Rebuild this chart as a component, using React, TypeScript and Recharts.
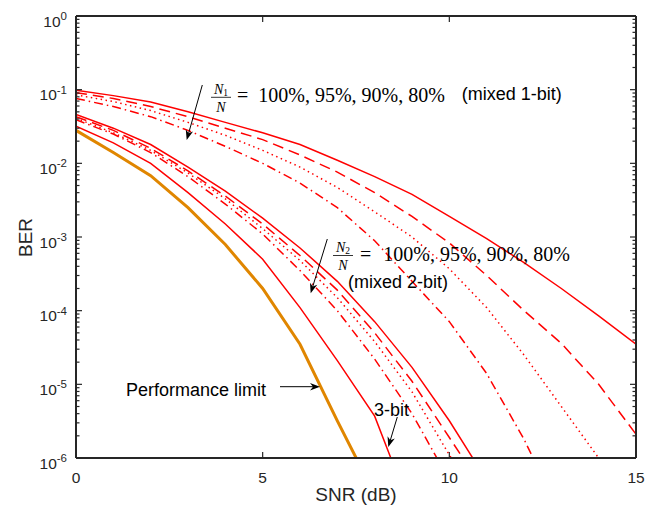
import React from "react";
import { LineChart, Line, XAxis, YAxis } from "recharts";

// SNR grid (dB)
const snr = [0, 1, 2, 3, 4, 5, 6, 7, 8, 9, 10, 11, 12, 13, 14, 15];

// mixed 1-bit, N1/N = 100%, 95%, 90%, 80%
const oneBit100 = [0.098, 0.083, 0.068, 0.05, 0.036, 0.026, 0.018, 0.011, 6.6e-3, 3.8e-3, 1.9e-3, 9.5e-4, 4.5e-4, 2.0e-4, 8.5e-5, 3.5e-5];
const oneBit95 = [0.091, 0.076, 0.059, 0.043, 0.03, 0.021, 0.013, 7.6e-3, 4.0e-3, 1.9e-3, 8.3e-4, 3.0e-4, 1.0e-4, 3.6e-5, 1.0e-5, 2.1e-6];
const oneBit90 = [0.085, 0.069, 0.052, 0.036, 0.024, 0.015, 8.9e-3, 4.7e-3, 2.2e-3, 1.0e-3, 3.7e-4, 1.1e-4, 2.5e-5, 5.0e-6, 1.0e-6];
const oneBit80 = [0.076, 0.059, 0.043, 0.028, 0.017, 0.01, 5.4e-3, 2.5e-3, 8.9e-4, 2.5e-4, 7.1e-5, 1.4e-5, 1.8e-6, 1.6e-7];

// mixed 2-bit, N2/N = 100%, 95%, 90%, 80%
const twoBit100 = [0.046, 0.03, 0.018, 8.9e-3, 4.2e-3, 1.8e-3, 7.1e-4, 2.5e-4, 7.1e-5, 1.7e-5, 3.2e-6, 5.0e-7];
const twoBit95 = [0.043, 0.028, 0.016, 7.9e-3, 3.6e-3, 1.5e-3, 5.6e-4, 1.9e-4, 5.0e-5, 1.1e-5, 1.9e-6, 3.2e-7];
const twoBit90 = [0.041, 0.026, 0.015, 7.4e-3, 3.3e-3, 1.3e-3, 4.8e-4, 1.5e-4, 3.8e-5, 7.9e-6, 1.1e-6, 1.6e-7];
const twoBit80 = [0.039, 0.025, 0.014, 6.6e-3, 2.8e-3, 1.1e-3, 3.5e-4, 1.0e-4, 2.2e-5, 4.0e-6, 5.0e-7];

const threeBit = [0.032, 0.019, 0.01, 4.0e-3, 1.5e-3, 5.0e-4, 1.1e-4, 2.1e-5, 3.7e-6, 1.8e-7];
const perfLimit = [0.028, 0.014, 6.8e-3, 2.5e-3, 7.9e-4, 2.0e-4, 3.5e-5, 3.2e-6, 3.2e-7];

const xTicks = [0, 5, 10, 15];
const decadeExps = [-6, -5, -4, -3, -2, -1, 0];
const minorSteps = [2, 3, 4, 5, 6, 7, 8, 9];

const majorY = decadeExps.map((e) => Math.pow(10, e));
const minorY = decadeExps.slice(0, -1).flatMap((e) => minorSteps.map((m) => m * Math.pow(10, e)));
const yTicks = [...majorY, ...minorY].sort((a, b) => a - b);

const data = snr.map((s, i) => ({
  snr: s,
  b1_100: oneBit100[i] ?? null,
  b1_95: oneBit95[i] ?? null,
  b1_90: oneBit90[i] ?? null,
  b1_80: oneBit80[i] ?? null,
  b2_100: twoBit100[i] ?? null,
  b2_95: twoBit95[i] ?? null,
  b2_90: twoBit90[i] ?? null,
  b2_80: twoBit80[i] ?? null,
  b3: threeBit[i] ?? null,
  limit: perfLimit[i] ?? null,
}));

const AXIS = "#262626";
const RED = "#ff0000";
const ORANGE = "#e08600";
const SANS = "'Liberation Sans', Arial, Helvetica, sans-serif";
const SERIF = "'Liberation Serif', 'Times New Roman', serif";

const DASH = "11 6";
const DOT = "1.5 3.5";
const DASHDOT = "9 4 1.5 4";

const isMajor = (v: number) => {
  const l = Math.log10(v);
  return Math.abs(l - Math.round(l)) < 1e-6;
};

function LeftTick(props: any) {
  const { x, y, payload } = props;
  const v = payload.value;
  const major = isMajor(v);
  const exp = Math.round(Math.log10(v));
  return (
    <g>
      <line x1={x} x2={x + (major ? 6 : 3.5)} y1={y} y2={y} stroke={AXIS} strokeWidth={1.2} />
      {major && (
        <text x={x - 9} y={y + 10.5} textAnchor="end" fontSize={15.5} fill={AXIS} fontFamily={SANS}>
          10
          <tspan dy={-6.5} fontSize={11.5}>
            {exp}
          </tspan>
        </text>
      )}
    </g>
  );
}

function RightTick(props: any) {
  const { x, y, payload } = props;
  const major = isMajor(payload.value);
  return <line x1={x} x2={x - (major ? 6 : 3.5)} y1={y} y2={y} stroke={AXIS} strokeWidth={1.2} />;
}

function BottomTick(props: any) {
  const { x, y, payload } = props;
  return (
    <g>
      <line x1={x} x2={x} y1={y} y2={y - 6} stroke={AXIS} strokeWidth={1.2} />
      <text x={x} y={y + 24.5} textAnchor="middle" fontSize={15.5} fill={AXIS} fontFamily={SANS}>
        {payload.value}
      </text>
    </g>
  );
}

function TopTick(props: any) {
  const { x, y } = props;
  return <line x1={x} x2={x} y1={y} y2={y + 6} stroke={AXIS} strokeWidth={1.2} />;
}

function Arrow({ x1, y1, x2, y2 }: { x1: number; y1: number; x2: number; y2: number }) {
  const a = Math.atan2(y2 - y1, x2 - x1);
  const c = Math.cos(a);
  const s = Math.sin(a);
  const L = 10;
  const W = 3.8;
  const bx = x2 - L * c;
  const by = y2 - L * s;
  const nx = x2 - L * 0.7 * c;
  const ny = y2 - L * 0.7 * s;
  const pts = [
    [x2, y2],
    [bx - W * s, by + W * c],
    [nx, ny],
    [bx + W * s, by - W * c],
  ]
    .map((p) => p.join(","))
    .join(" ");
  return (
    <g>
      <line x1={x1} y1={y1} x2={nx} y2={ny} stroke="#000" strokeWidth={1} />
      <polygon points={pts} fill="#000" />
    </g>
  );
}

function Fraction({ x, bar, sub }: { x: number; bar: number; sub: string }) {
  return (
    <g fontFamily={SERIF} fill="#000">
      <text x={x} y={bar - 3.8} textAnchor="middle" fontSize={14} fontStyle="italic">
        N<tspan fontSize={9.5} fontStyle="normal" dy={2}>{sub}</tspan>
      </text>
      <line x1={x - 10} x2={x + 10} y1={bar} y2={bar} stroke="#000" strokeWidth={0.8} />
      <text x={x} y={bar + 14.2} textAnchor="middle" fontSize={14} fontStyle="italic">
        N
      </text>
    </g>
  );
}

export default function App() {
  return (
    <div style={{ position: "absolute", left: 0, top: 0, width: 652, height: 514, background: "#fff" }}>
      <LineChart width={652} height={514} data={data} margin={{ top: 0, right: 0, bottom: 0, left: 0 }}>
        <XAxis
          dataKey="snr"
          type="number"
          domain={[0, 15]}
          ticks={xTicks}
          allowDataOverflow
          height={56}
          tickSize={0}
          tickMargin={0}
          tickLine={false}
          interval={0}
          axisLine={{ stroke: AXIS, strokeWidth: 2 }}
          tick={<BottomTick />}
        />
        <XAxis
          xAxisId="top"
          orientation="top"
          type="number"
          domain={[0, 15]}
          ticks={xTicks}
          allowDataOverflow
          height={16}
          tickSize={0}
          tickMargin={0}
          tickLine={false}
          interval={0}
          axisLine={{ stroke: AXIS, strokeWidth: 2 }}
          tick={<TopTick />}
        />
        <YAxis
          scale="log"
          domain={[1e-6, 1]}
          ticks={yTicks}
          allowDataOverflow
          width={76}
          tickSize={0}
          tickMargin={0}
          tickLine={false}
          interval={0}
          axisLine={{ stroke: AXIS, strokeWidth: 2 }}
          tick={<LeftTick />}
        />
        <YAxis
          yAxisId="right"
          orientation="right"
          scale="log"
          domain={[1e-6, 1]}
          ticks={yTicks}
          allowDataOverflow
          width={16}
          tickSize={0}
          tickMargin={0}
          tickLine={false}
          interval={0}
          axisLine={{ stroke: AXIS, strokeWidth: 2 }}
          tick={<RightTick />}
        />
        <Line dataKey="b1_100" type="linear" stroke={RED} strokeWidth={1.5} dot={false} activeDot={false} isAnimationActive={false} />
        <Line dataKey="b1_95" type="linear" stroke={RED} strokeWidth={1.5} strokeDasharray={DASH} dot={false} activeDot={false} isAnimationActive={false} />
        <Line dataKey="b1_90" type="linear" stroke={RED} strokeWidth={1.5} strokeDasharray={DOT} dot={false} activeDot={false} isAnimationActive={false} />
        <Line dataKey="b1_80" type="linear" stroke={RED} strokeWidth={1.5} strokeDasharray={DASHDOT} dot={false} activeDot={false} isAnimationActive={false} />
        <Line dataKey="b2_100" type="linear" stroke={RED} strokeWidth={1.5} dot={false} activeDot={false} isAnimationActive={false} />
        <Line dataKey="b2_95" type="linear" stroke={RED} strokeWidth={1.5} strokeDasharray={DASH} dot={false} activeDot={false} isAnimationActive={false} />
        <Line dataKey="b2_90" type="linear" stroke={RED} strokeWidth={1.5} strokeDasharray={DOT} dot={false} activeDot={false} isAnimationActive={false} />
        <Line dataKey="b2_80" type="linear" stroke={RED} strokeWidth={1.5} strokeDasharray={DASHDOT} dot={false} activeDot={false} isAnimationActive={false} />
        <Line dataKey="b3" type="linear" stroke={RED} strokeWidth={1.5} dot={false} activeDot={false} isAnimationActive={false} />
        <Line dataKey="limit" type="linear" stroke={ORANGE} strokeWidth={3} dot={false} activeDot={false} isAnimationActive={false} />
      </LineChart>

      <svg width={652} height={514} style={{ position: "absolute", left: 0, top: 0, pointerEvents: "none" }}>
        {/* axis titles */}
        <text x={356} y={501} textAnchor="middle" fontSize={19} fontFamily={SANS} fill={AXIS}>
          SNR (dB)
        </text>
        <text x={32} y={237.5} textAnchor="middle" fontSize={19} fontFamily={SANS} fill={AXIS} transform="rotate(-90 32 237.5)">
          BER
        </text>

        {/* mixed 1-bit annotation */}
        <Fraction x={221} bar={97.3} sub="1" />
        <text x={237} y={102} fontSize={20} fontFamily={SERIF}>=</text>
        <text x={258.3} y={102} fontSize={20} fontFamily={SERIF}>100%, 95%, 90%, 80%</text>
        <text x={461.7} y={100} fontSize={18} fontFamily={SANS}>(mixed 1-bit)</text>
        <Arrow x1={202.3} y1={85} x2={186.7} y2={140} />

        {/* mixed 2-bit annotation */}
        <Fraction x={343} bar={255.5} sub="2" />
        <text x={360} y={261} fontSize={20} fontFamily={SERIF}>=</text>
        <text x={383.3} y={261} fontSize={20} fontFamily={SERIF}>100%, 95%, 90%, 80%</text>
        <text x={348} y={288} fontSize={18} fontFamily={SANS}>(mixed 2-bit)</text>
        <Arrow x1={327.3} y1={239} x2={310.7} y2={293.3} />

        {/* performance limit / 3-bit */}
        <text x={126} y={395.5} fontSize={18} fontFamily={SANS}>Performance limit</text>
        <Arrow x1={280} y1={386.7} x2={320} y2={386.7} />
        <text x={374} y={416} fontSize={18} fontFamily={SANS}>3-bit</text>
        <Arrow x1={397.3} y1={417} x2={388.3} y2={447} />
      </svg>
    </div>
  );
}
